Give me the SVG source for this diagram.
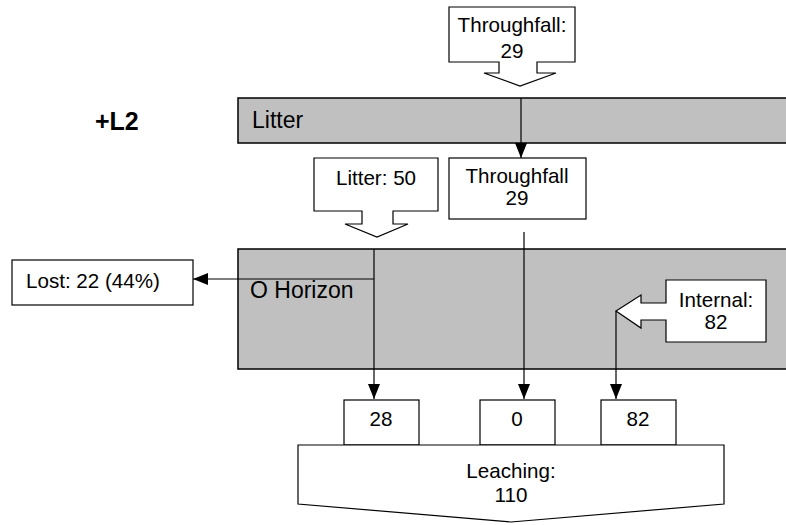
<svg xmlns="http://www.w3.org/2000/svg" width="786" height="525" viewBox="0 0 786 525">
<style>
  text { font-family: "Liberation Sans", Arial, sans-serif; font-size: 20.6px; fill: #000; }
  .c { text-anchor: middle; }
  .lbl { font-size: 23px; }
  .band { fill: #C0C0C0; stroke: #000; stroke-width: 1.5; }
  .box { fill: #fff; stroke: #000; stroke-width: 1.2; }
  .line { stroke: #000; stroke-width: 1.2; fill: none; }
  .title { font-weight: bold; font-size: 25px; }
</style>
<defs>
  <marker id="arr" markerUnits="userSpaceOnUse" markerWidth="15" markerHeight="12" refX="15" refY="6" orient="auto">
    <path d="M0,0 L15,6 L0,12 Z" fill="#000"/>
  </marker>
</defs>
<rect width="786" height="525" fill="#fff"/>

<g id="label-L2"><text class="title" x="95" y="130">+L2</text></g>

<g id="litter-band">
  <rect class="band" x="238" y="98" width="570" height="45"/>
  <text class="lbl" x="252" y="128">Litter</text>
</g>

<g id="o-horizon">
  <rect class="band" x="238" y="249" width="570" height="120"/>
  <text class="lbl" x="250" y="298">O Horizon</text>
</g>

<g id="throughfall-in">
  <path class="box" d="M449,7 H575 V62 H537 V73 H556 L520,86 L484,73 H499 V62 H449 Z"/>
  <text class="c" x="512" y="32">Throughfall:</text>
  <text class="c" x="512" y="58">29</text>
</g>

<g id="litter-50">
  <path class="box" d="M314,158 H438 V211 H393 V224 H408 L377,237 L345,224 H362 V211 H314 Z"/>
  <text class="c" x="376" y="185">Litter: 50</text>
</g>

<g id="throughfall-29">
  <rect class="box" x="449" y="158" width="137" height="61"/>
  <text class="c" x="517" y="183">Throughfall</text>
  <text class="c" x="517" y="205">29</text>
</g>

<g id="lost">
  <rect class="box" x="12" y="260" width="181" height="45"/>
  <text x="26" y="288">Lost: 22 (44%)</text>
</g>

<g id="internal">
  <path class="box" d="M666,280 H766 V342 H666 V320 H641 V328 L616,311 L641,295 V303 H666 Z"/>
  <text class="c" x="716" y="307">Internal:</text>
  <text class="c" x="716" y="329">82</text>
</g>

<g id="box-28">
  <rect class="box" x="344" y="400" width="75" height="45"/>
  <text class="c" x="381" y="426">28</text>
</g>
<g id="box-0">
  <rect class="box" x="480" y="400" width="75" height="45"/>
  <text class="c" x="517" y="426">0</text>
</g>
<g id="box-82">
  <rect class="box" x="601" y="400" width="75" height="45"/>
  <text class="c" x="638" y="426">82</text>
</g>

<g id="leaching">
  <path class="box" d="M298,445 H724 V504 L511,522 L298,504 Z"/>
  <text class="c" x="511" y="478">Leaching:</text>
  <text class="c" x="511" y="502">110</text>
</g>

<g id="connectors">
  <line class="line" x1="521" y1="98" x2="521" y2="158" marker-end="url(#arr)"/>
  <line class="line" x1="374" y1="249" x2="374" y2="399" marker-end="url(#arr)"/>
  <line class="line" x1="374" y1="279" x2="193" y2="279" marker-end="url(#arr)"/>
  <line class="line" x1="524" y1="232" x2="524" y2="399" marker-end="url(#arr)"/>
  <line class="line" x1="616" y1="311" x2="616" y2="399" marker-end="url(#arr)"/>
</g>
</svg>
